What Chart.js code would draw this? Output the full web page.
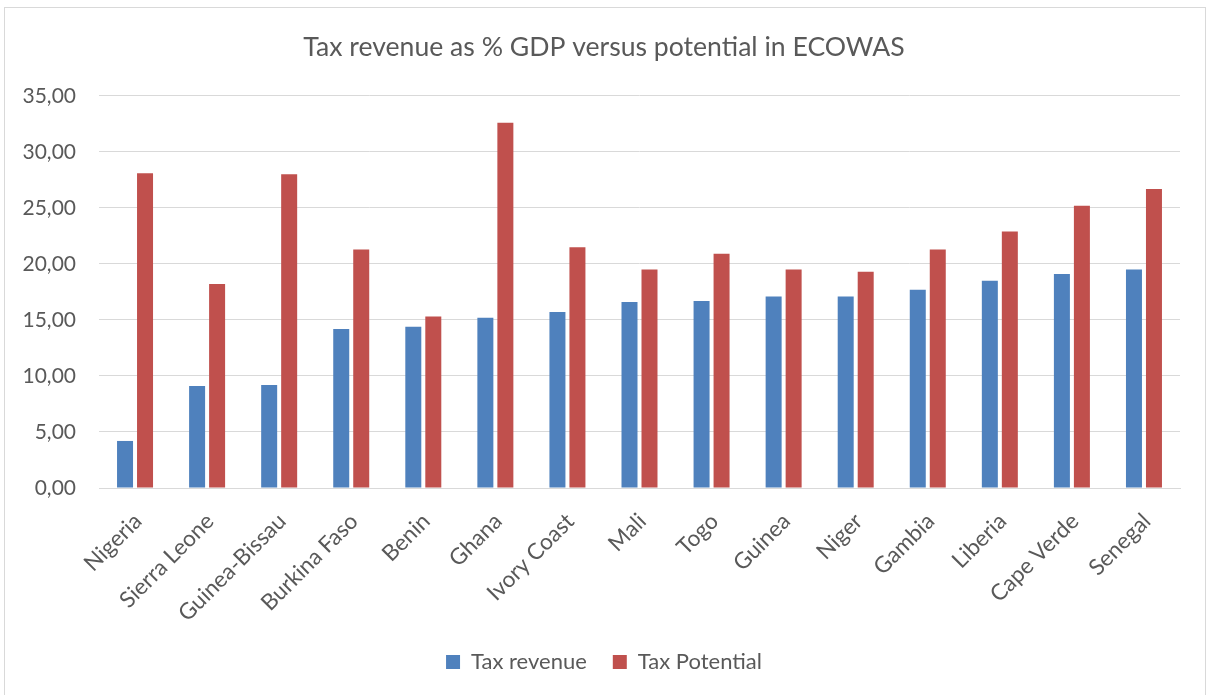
<!DOCTYPE html>
<html>
<head>
<meta charset="utf-8">
<script src="https://cdn.jsdelivr.net/npm/chart.js@4"></script>
<style>
  html, body { margin: 0; padding: 0; background: #fff; }
  #wrap { position: relative; width: 1208px; height: 695px; overflow: hidden; }
  #frame { position: absolute; left: 4px; top: 7px; width: 1202px; height: 700px; border: 1px solid #d9d9d9; box-sizing: border-box; }
  #grafico { position: absolute; left: 0; top: 0; }
</style>
</head>
<body>
<div id="wrap">
  <div id="frame"></div>
  <canvas id="grafico" width="1208" height="695"></canvas>
</div>
<script>
// Países da CEDEAO
const paises = [
    'Nigeria', 'Sierra Leone', 'Guinea-Bissau', 'Burkina Faso', 'Benin',
    'Ghana', 'Ivory Coast', 'Mali', 'Togo', 'Guinea',
    'Niger', 'Gambia', 'Liberia', 'Cape Verde', 'Senegal'
];

// Receita fiscal (% do PIB)
const receitaFiscal = [4.2, 9.1, 9.2, 14.2, 14.4, 15.2, 15.7, 16.6, 16.7, 17.1, 17.1, 17.7, 18.5, 19.1, 19.5];

// Potencial fiscal (% do PIB)
const potencialFiscal = [28.1, 18.2, 28.0, 21.3, 15.3, 32.6, 21.5, 19.5, 20.9, 19.5, 19.3, 21.3, 22.9, 25.2, 26.7];

const fonte = 'Lato, "Open Sans", sans-serif';
const corTexto = '#595959';
const corGrade = '#d9d9d9';

const elementoGrafico = document.getElementById('grafico');

const dadosGrafico = {
    labels: paises,
    datasets: [{
        label: 'Tax revenue',
        data: receitaFiscal,
        backgroundColor: '#4f81bd',
        categoryPercentage: 0.555,
        barPercentage: 0.8
    }, {
        label: 'Tax Potential',
        data: potencialFiscal,
        backgroundColor: '#c0504d',
        categoryPercentage: 0.555,
        barPercentage: 0.8
    }]
};

const grafico = new Chart(elementoGrafico, {
    type: 'bar',
    data: dadosGrafico,
    options: {
        responsive: false,
        animation: false,
        layout: {
            padding: { left: 0, right: 0, top: 0, bottom: 12 }
        },
        plugins: {
            title: {
                display: true,
                text: 'Tax revenue as % GDP versus potential in ECOWAS',
                color: corTexto,
                font: { family: fonte, size: 26.6, weight: 'normal' },
                padding: { top: 31, bottom: 33 }
            },
            legend: {
                position: 'bottom',
                labels: {
                    color: corTexto,
                    font: { family: fonte, size: 22 },
                    boxWidth: 14,
                    boxHeight: 14,
                    padding: 26
                }
            },
            tooltip: { enabled: false }
        },
        scales: {
            x: {
                grid: { display: false, drawTicks: false },
                border: { color: corGrade, width: 1 },
                ticks: {
                    color: corTexto,
                    font: { family: fonte, size: 22.5 },
                    minRotation: 45,
                    maxRotation: 45,
                    padding: 20,
                    labelOffset: 3
                },
                afterFit: function (escala) { escala.height = 137; }
            },
            y: {
                min: 0,
                max: 35,
                grid: { color: corGrade, lineWidth: 1, drawTicks: false },
                border: { display: false },
                ticks: {
                    stepSize: 5,
                    color: corTexto,
                    font: { family: fonte, size: 21 },
                    padding: 23,
                    callback: function (valor) {
                        return valor.toFixed(2).replace('.', ',');
                    }
                },
                afterFit: function (escala) { escala.width = 99; }
            },
            // eixo vazio à direita, só para reservar a margem
            margemDireita: {
                type: 'linear',
                position: 'right',
                grid: { display: false, drawTicks: false },
                border: { display: false },
                ticks: { display: false },
                afterFit: function (escala) { escala.width = 28; }
            }
        }
    }
});
</script>
</body>
</html>
